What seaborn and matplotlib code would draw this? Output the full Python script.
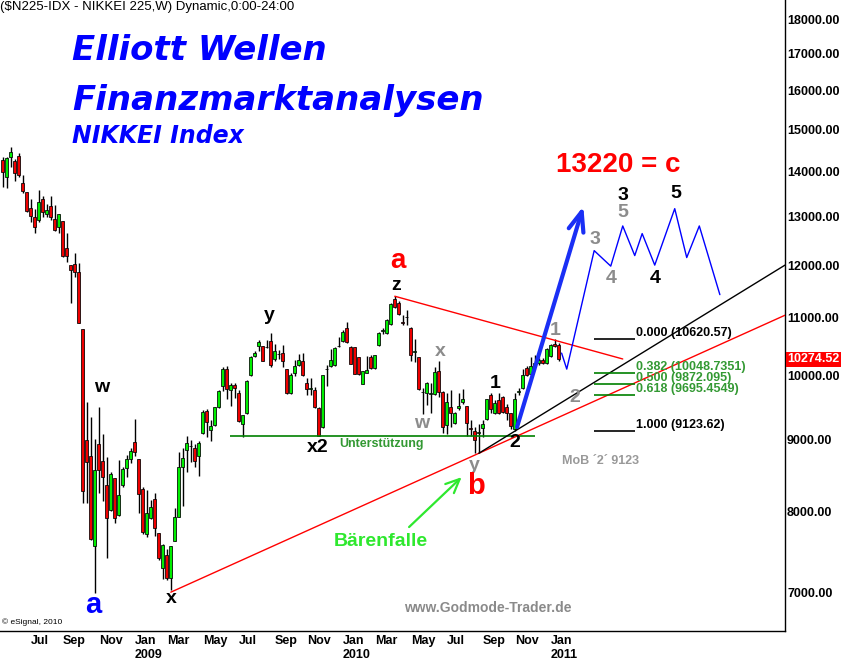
import numpy as np
import pandas as pd
import matplotlib
matplotlib.use('Agg')
import matplotlib.pyplot as plt
import matplotlib.dates as mdates
import matplotlib.transforms as mtransforms
from matplotlib.ticker import NullLocator, NullFormatter
import seaborn as sns

# Weekly NIKKEI 225 candles, first week starts 2008-05-19
first_week = '2008-05-19'
opens = [
    14270, 13870, 14340, 14240, 14360, 13740, 13530, 13180, 12990, 12920,
    13380, 13050, 13230, 12940, 12780, 12900, 12340, 12000, 12020, 11860,
    10800, 9000, 8760, 7550, 8940, 8690, 8350, 8010, 8450, 7950,
    8350, 8590, 8720, 8970, 8720, 8300, 7700, 7910, 8160, 7720,
    7290, 7440, 7160, 7610, 7920, 8600, 8850, 8900, 8880, 8760,
    9100, 9440, 9150, 9220, 9500, 9830, 10110, 9770, 9850, 9720,
    9240, 9400, 10010, 10330, 10500, 10500, 10480, 10590, 10280, 10360,
    10380, 10110, 9720, 10050, 10180, 10250, 9880, 9780, 9770, 9480,
    9190, 10110, 10160, 10180, 10500, 10590, 10820, 10490, 10490, 10310,
    9870, 10050, 10310, 10130, 10520, 10770, 10730, 10890, 11350, 11270,
    10920, 11010, 10820, 10400, 10310, 9740, 9720, 9710, 9710, 10080,
    9740, 9220, 9500, 9250, 9490, 9570, 9510, 9170, 9130, 9100,
    9180, 9310, 9690, 9410, 9610, 9660, 9500, 9400, 9160, 9740,
    9800, 10130, 10030, 10160, 10210, 10260, 10220, 10330, 10540, 10520,
]
highs = [
    14340, 14340, 14580, 14290, 14430, 13920, 13540, 13380, 13160, 13580,
    13450, 13270, 13450, 13250, 13050, 12910, 12650, 12000, 12240, 12040,
    10800, 9580, 9340, 9010, 9500, 9090, 8750, 8530, 8450, 8700,
    8600, 8780, 8880, 9310, 8720, 8320, 8280, 8150, 8240, 7720,
    7580, 7520, 7550, 8040, 8820, 8880, 9060, 9000, 8940, 8980,
    9450, 9470, 9300, 9500, 9770, 10150, 10170, 9880, 9880, 9770,
    9380, 9930, 10330, 10420, 10610, 10510, 10610, 10730, 10540, 10430,
    10520, 10120, 10050, 10260, 10370, 10380, 9960, 9960, 9820, 9500,
    10020, 10180, 10450, 10490, 10660, 10780, 10930, 10500, 10490, 10320,
    10080, 10330, 10350, 10350, 10750, 10820, 10980, 11270, 11400, 11310,
    11050, 11140, 10830, 10620, 10320, 9800, 9900, 9880, 10150, 10240,
    9750, 9720, 9770, 9420, 9720, 9780, 9520, 9300, 9190, 9240,
    9300, 9630, 9720, 9610, 9720, 9670, 9550, 9410, 9720, 9800,
    10110, 10160, 10310, 10350, 10300, 10300, 10470, 10540, 10620, 10560,
]
lows = [
    13650, 13620, 14100, 13780, 13870, 13510, 13100, 12880, 12650, 12880,
    12990, 12990, 12920, 12690, 12650, 12160, 12060, 11270, 11760, 10900,
    8110, 8110, 7630, 6990, 8240, 8130, 7400, 8000, 7840, 7930,
    8320, 8460, 8660, 8760, 7970, 7710, 7660, 7900, 7680, 7380,
    7150, 7140, 7020, 7610, 7920, 8070, 8530, 8670, 8600, 8470,
    9090, 9040, 8980, 9200, 9480, 9750, 9620, 9520, 9640, 9270,
    9040, 9390, 10000, 10310, 10420, 10240, 10460, 10150, 10250, 10280,
    10150, 9700, 9700, 10000, 10160, 10000, 9690, 9690, 9480, 9050,
    9170, 9830, 10150, 10160, 10480, 10580, 10550, 10190, 10030, 10020,
    9860, 10040, 10110, 10110, 10500, 10720, 10720, 10870, 11180, 11050,
    10880, 10870, 10250, 10230, 9770, 9390, 9530, 9400, 9690, 9660,
    9100, 9090, 9190, 9240, 9450, 9540, 9060, 9060, 8800, 8800,
    9040, 9300, 9400, 9390, 9390, 9410, 9300, 9160, 9124, 9690,
    9780, 10000, 10010, 10150, 10180, 10200, 10200, 10310, 10480, 10250,
]
closes = [
    13990, 14310, 14460, 13970, 13920, 13560, 13120, 13010, 12780, 13310,
    13100, 13140, 12990, 12710, 13050, 12180, 12180, 11900, 11860, 10910,
    8270, 8670, 7640, 8560, 8560, 8460, 7910, 8500, 7910, 8210,
    8570, 8720, 8830, 8820, 8230, 7730, 7970, 8050, 7780, 7400,
    7560, 7160, 7550, 7920, 8600, 8730, 8950, 8910, 8690, 8950,
    9420, 9270, 9210, 9500, 9750, 10110, 9780, 9850, 9800, 9280,
    9370, 9910, 10310, 10380, 10570, 10250, 10490, 10180, 10420, 10370,
    10250, 9720, 10010, 10160, 10260, 10010, 9780, 9800, 9500, 9060,
    10010, 10120, 10260, 10470, 10510, 10750, 10570, 10200, 10030, 10030,
    10080, 10090, 10130, 10350, 10730, 10790, 10960, 11250, 11200, 11070,
    10900, 11020, 10350, 10420, 9780, 9730, 9880, 9720, 10060, 9740,
    9190, 9580, 9410, 9410, 9520, 9630, 9250, 9160, 8990, 9110,
    9240, 9620, 9470, 9560, 9410, 9420, 9410, 9200, 9620, 9750,
    10010, 10020, 10160, 10210, 10260, 10220, 10450, 10520, 10500, 10274.52,
]
last_price = 10274.52

# projected Elliott path (thin blue)
proj_dates = ['2011-01-22', '2011-01-31', '2011-03-20', '2011-04-18', '2011-05-09', '2011-05-30',
              '2011-06-12', '2011-07-04', '2011-08-08', '2011-08-29', '2011-09-20', '2011-10-26']
proj_values = [10380, 10110, 12290, 11980, 12800, 12190, 12640, 12000, 13170, 12150, 12800, 11430]

# Fibonacci retracement of the last up leg
fib_levels = [0.0, 0.382, 0.5, 0.618, 1.0]
fib_values = [10620.57, 10048.7351, 9872.095, 9695.4549, 9123.62]

support_level = 9056
target_c = 13220

ytick_values = [7000, 8000, 9000, 10000, 11000, 12000, 13000, 14000, 15000, 16000, 17000, 18000]
xtick_dates = ['2008-07-07', '2008-09-01', '2008-11-03', '2009-01-05', '2009-03-02', '2009-05-04',
               '2009-07-06', '2009-09-07', '2009-11-02', '2010-01-04', '2010-03-01', '2010-05-03',
               '2010-07-05', '2010-09-06', '2010-11-01', '2011-01-03']
xtick_labels = ['Jul', 'Sep', 'Nov', 'Jan\n2009', 'Mar', 'May', 'Jul', 'Sep', 'Nov', 'Jan\n2010',
                'Mar', 'May', 'Jul', 'Sep', 'Nov', 'Jan\n2011']


def d(s):
    return mdates.date2num(pd.Timestamp(s))


sns.set_style('white', rc={'text.color': 'black', 'xtick.color': 'black',
                           'ytick.color': 'black', 'axes.edgecolor': 'black'})
plt.rcParams['font.family'] = ['Liberation Sans', 'DejaVu Sans']

fig = plt.figure(figsize=(8.42, 6.62), dpi=100)
ax = fig.add_axes([0, 31 / 662, 785 / 842, 631 / 662])

x_start, x_end = d('2008-05-14'), d('2012-02-17')

# candles
x = mdates.date2num(pd.date_range(first_week, periods=len(opens), freq='7D'))
o, h, l, c = (np.array(v, float) for v in (opens, highs, lows, closes))
up = c >= o
ax.vlines(x, l, h, color='black', lw=1, zorder=2)
ax.bar(x, np.maximum(np.abs(c - o), 1), bottom=np.minimum(o, c), width=5.6,
       color=np.where(up, '#00ee00', '#ee0000'), edgecolor='black', linewidth=0.55, zorder=3)

# support line
ax.hlines(support_level, d('2009-06-21'), d('2010-12-06'), color='#008000', lw=1.2, zorder=4)
ax.text(d('2010-03-12'), 8937, 'Unterstützung', color='#339933', fontsize=9,
        fontweight='bold', ha='center', va='center', zorder=5)

# lower red trend line x -> y, extended to the right edge
x0, x1 = d('2009-03-09'), d('2010-08-30')
v0, v1 = 7000, 8800
slope = (np.log10(v1) - np.log10(v0)) / (x1 - x0)
ax.plot([x0, x_end], [v0, 10 ** (np.log10(v0) + slope * (x_end - x0))], color='#ff0000', lw=1, zorder=4)
# black trend line y -> 2
ax.plot([x1, x_end], [v1, 12000], color='black', lw=1, zorder=4)
# upper red line from z
ax.plot([d('2010-04-05'), d('2011-05-09')], [11400, 10280], color='#ff0000', lw=1, zorder=4)

# projection
sns.lineplot(x=mdates.date2num(pd.to_datetime(proj_dates)), y=proj_values, ax=ax,
             color='#0000ff', lw=1, sort=False, estimator=None, zorder=4)
ax.annotate('', xy=(d('2011-03-01'), target_c), xytext=(d('2010-11-05'), 9190),
            arrowprops=dict(arrowstyle='->,head_length=1.4,head_width=0.55', color='#1a2ff5',
                            lw=3, shrinkA=0, shrinkB=0), zorder=4)

# Fibonacci levels
for lv, val in zip(fib_levels, fib_values):
    col = 'black' if lv in (0.0, 1.0) else '#008000'
    tcol = 'black' if lv in (0.0, 1.0) else '#339933'
    ax.hlines(val, d('2011-03-19'), d('2011-05-30'), color=col, lw=1.2, zorder=4)
    ax.text(d('2011-06-01'), val, f'{lv:.3f} ({val})', color=tcol, fontsize=9,
            fontweight='bold', ha='left', va='bottom', zorder=5)
ax.text(d('2011-03-31'), 8687, 'MoB \u00b42\u00b4 9123', color='#999999', fontsize=9,
        fontweight='bold', ha='center', va='center')

# wave labels
black, grey, red, blue = 'black', '#8c8c8c', '#ff0000', '#0000ff'
wave_labels = [
    ('w', '2008-11-08', 9800, black, 14), ('x', '2009-03-10', 6930, black, 14),
    ('y', '2009-08-29', 11040, black, 14), ('x2', '2009-11-21', 8878, black, 14),
    ('z', '2010-04-08', 11600, black, 14), ('x', '2010-06-23', 10400, grey, 14),
    ('w', '2010-05-22', 9250, grey, 14), ('y', '2010-08-23', 8630, grey, 14),
    ('1', '2010-09-27', 9865, black, 14), ('2', '2010-11-01', 8952, black, 14),
    ('1', '2011-01-10', 10781, grey, 14), ('2', '2011-02-14', 9640, grey, 14),
    ('3', '2011-03-21', 12525, grey, 14), ('4', '2011-04-18', 11745, grey, 14),
    ('5', '2011-05-09', 13096, grey, 14), ('3', '2011-05-09', 13467, black, 14),
    ('4', '2011-07-04', 11745, black, 14), ('5', '2011-08-10', 13512, black, 14),
    ('a', '2008-10-24', 6852, blue, 21), ('a', '2010-04-10', 12090, red, 20),
    ('b', '2010-08-25', 8337, red, 21),
]
for txt, dt, val, col, fs in wave_labels:
    ax.text(d(dt), val, txt, color=col, fontsize=fs, fontweight='bold',
            ha='center', va='center', zorder=5)
ax.text(d('2011-05-02'), 14149, f'{target_c} = c', color=red, fontsize=20,
        fontweight='bold', ha='center', va='center', zorder=5)

# bear trap
ax.annotate('', xy=(d('2010-07-31'), 8461), xytext=(d('2010-04-30'), 7793),
            arrowprops=dict(arrowstyle='->,head_length=1.0,head_width=0.45', color='#2ee82e',
                            lw=1.6, shrinkA=0, shrinkB=0), zorder=4)
ax.text(d('2010-03-12'), 7614, 'Bärenfalle', color='#2ee82e', fontsize=14,
        fontweight='bold', ha='center', va='center', zorder=5)

ax.text(0.6217, 0.0365, 'www.Godmode-Trader.de', transform=ax.transAxes, color='#8a8a8a',
        fontsize=10, fontweight='bold', ha='center', va='center')
ax.text(0.002, 0.0143, '\u00a9 eSignal, 2010', transform=ax.transAxes, fontsize=6,
        ha='left', va='center')

# axes
ax.set_yscale('log')
ax.set_xlim(x_start, x_end)
ax.set_ylim(6566, 18575)
ax.set_yticks(ytick_values)
ax.set_yticklabels([f'{v:.2f}' for v in ytick_values], fontsize=9, fontweight='bold')
ax.yaxis.set_minor_locator(NullLocator())
ax.yaxis.set_minor_formatter(NullFormatter())
ax.yaxis.tick_right()
ax.tick_params(axis='y', length=0, pad=1.5, labelright=True, labelleft=False)
ax.set_xticks([d(s) for s in xtick_dates])
ax.set_xticklabels(xtick_labels, fontsize=9, fontweight='bold', ha='left')
ax.tick_params(axis='x', length=0, pad=3)
for side in ('left', 'top'):
    ax.spines[side].set_visible(False)
for side in ('right', 'bottom'):
    ax.spines[side].set_color('black')
    ax.spines[side].set_linewidth(1)

# last price tag
ax.text(1.003, last_price, f'{last_price:.2f}', transform=mtransforms.blended_transform_factory(ax.transAxes, ax.transData),
        color='white', fontsize=9, fontweight='bold', ha='left', va='center', clip_on=False,
        bbox=dict(boxstyle='square,pad=0.12', fc='#ff0000', ec='none'), zorder=6)

# header and titles
fig.text(0.0, 1 - 7 / 662, '($N225-IDX - NIKKEI 225,W) Dynamic,0:00-24:00', fontsize=9.5,
         ha='left', va='center')
title_font = dict(family='DejaVu Sans', fontweight='bold', style='oblique', color='#0000ff', ha='left', va='baseline')
fig.text(72 / 842, 1 - 60 / 662, 'Elliott Wellen', fontsize=24.5, **title_font)
fig.text(72 / 842, 1 - 110 / 662, 'Finanzmarktanalysen', fontsize=24.5, **title_font)
fig.text(72 / 842, 1 - 143 / 662, 'NIKKEI Index', fontsize=17, **title_font)

fig.savefig('out.png', dpi=100)
